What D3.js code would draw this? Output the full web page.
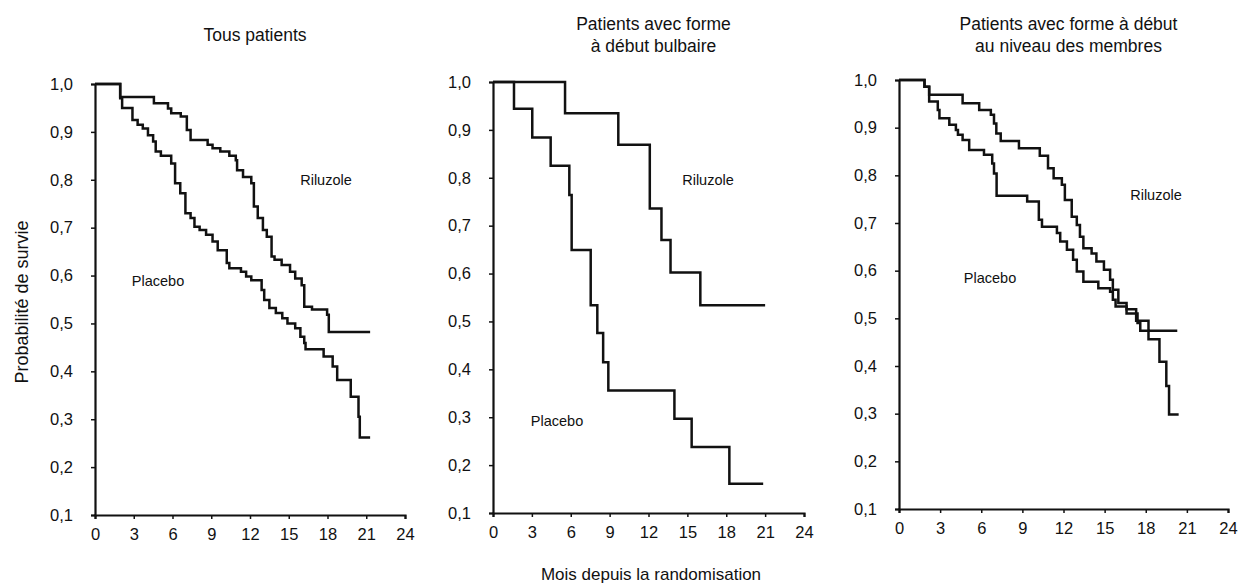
<!DOCTYPE html>
<html>
<head>
<meta charset="utf-8">
<script src="https://cdn.jsdelivr.net/npm/d3@7"></script>
<style>
  body { margin: 0; background: #fff; }
  text { font-family: "Liberation Sans", Arial, sans-serif; fill: #111; }
</style>
</head>
<body>
<div id="chart"></div>
<script>
// *** DATA ***
const monthTicks = [0, 3, 6, 9, 12, 15, 18, 21, 24];
const survTicks = [0.1, 0.2, 0.3, 0.4, 0.5, 0.6, 0.7, 0.8, 0.9, 1.0];

// step curves: [month, survival], last point = end of follow-up
const allRiluzole = [[0,1],[1.95,0.973],[4.56,0.96],[5.65,0.949],[5.9,0.939],[6.64,0.932],[7.11,0.904],[7.4,0.883],[8.72,0.873],[9.1,0.866],[9.7,0.859],[10.4,0.85],[10.9,0.841],[11.0,0.82],[11.46,0.806],[12.1,0.793],[12.3,0.744],[12.6,0.72],[13.0,0.695],[13.3,0.681],[13.67,0.64],[13.9,0.633],[14.45,0.622],[15.1,0.608],[15.5,0.594],[16.0,0.58],[16.2,0.535],[16.8,0.529],[17.97,0.518],[18.1,0.482],[21.3,0.482]];
const allPlacebo = [[0,1],[1.95,0.97],[2.1,0.95],[2.9,0.925],[3.3,0.915],[3.7,0.907],[4.1,0.893],[4.5,0.88],[4.7,0.859],[5.1,0.85],[5.9,0.834],[6.2,0.793],[6.6,0.772],[7.0,0.73],[7.4,0.72],[7.7,0.702],[8.1,0.695],[8.6,0.685],[9.1,0.671],[9.5,0.653],[10.2,0.626],[10.4,0.615],[11.3,0.608],[11.7,0.598],[12.1,0.59],[12.9,0.57],[13.1,0.549],[13.5,0.532],[14.0,0.522],[14.5,0.511],[14.9,0.5],[15.5,0.49],[15.9,0.472],[16.2,0.459],[16.3,0.446],[17.7,0.431],[18.4,0.41],[18.75,0.382],[19.8,0.347],[20.4,0.305],[20.5,0.262],[21.3,0.262]];

const bulbRiluzole = [[0,1],[5.56,0.935],[9.67,0.869],[12.1,0.736],[13.0,0.67],[13.7,0.602],[16.0,0.534],[21.0,0.534]];
const bulbPlacebo = [[0,1],[1.62,0.944],[3.03,0.884],[4.45,0.825],[5.89,0.764],[6.07,0.649],[7.54,0.534],[8.05,0.476],[8.5,0.415],[8.9,0.356],[14.0,0.297],[15.33,0.238],[18.24,0.161],[20.85,0.161]];

const limbRiluzole = [[0,1],[1.86,0.986],[2.2,0.969],[4.64,0.951],[5.85,0.937],[6.7,0.927],[6.93,0.909],[7.1,0.888],[7.42,0.872],[8.75,0.857],[10.27,0.841],[10.87,0.815],[11.28,0.794],[11.88,0.78],[12.1,0.748],[12.6,0.713],[12.97,0.696],[13.2,0.671],[13.45,0.647],[14.05,0.636],[14.4,0.619],[14.95,0.602],[15.4,0.581],[15.6,0.56],[16.0,0.532],[16.6,0.519],[17.3,0.495],[18.2,0.474],[20.3,0.474]];
const limbPlacebo = [[0,1],[1.86,0.986],[2.2,0.955],[2.83,0.937],[2.95,0.92],[3.67,0.906],[4.15,0.895],[4.3,0.885],[4.64,0.874],[5.12,0.853],[6.2,0.843],[6.8,0.825],[6.93,0.804],[7.12,0.757],[9.35,0.745],[10.2,0.707],[10.43,0.692],[11.52,0.679],[11.76,0.661],[12.25,0.644],[12.7,0.623],[12.97,0.598],[13.45,0.577],[14.54,0.563],[15.4,0.556],[15.6,0.539],[15.8,0.525],[16.6,0.51],[17.4,0.49],[17.6,0.474],[18.2,0.456],[19.0,0.409],[19.5,0.358],[19.7,0.298],[20.4,0.298]];

const titles = [["Tous patients"], ["Patients avec forme", "à début bulbaire"], ["Patients avec forme à début", "au niveau des membres"]];

// *** LAYOUT ***
const width = 1239, height = 587;
const panels = [
  { x0: 95, x1: 405, yTop: 84, yBot: 515, series: [allRiluzole, allPlacebo], title: titles[0],
    labels: [["Riluzole", 326, 185], ["Placebo", 158, 286]] },
  { x0: 493, x1: 804, yTop: 82, yBot: 513, series: [bulbRiluzole, bulbPlacebo], title: titles[1],
    labels: [["Riluzole", 708, 185], ["Placebo", 557, 426]] },
  { x0: 899, x1: 1228, yTop: 80, yBot: 509, series: [limbRiluzole, limbPlacebo], title: titles[2],
    labels: [["Riluzole", 1156, 200], ["Placebo", 990, 283]] }
];

const svg = d3.select("#chart").append("svg")
  .attr("width", width)
  .attr("height", height);

const commaFmt = d => d3.format(".1f")(d).replace(".", ",");

panels.forEach(p => {
  let x = d3.scaleLinear().domain([0, 24]).range([p.x0, p.x1]);
  let y = d3.scaleLinear().domain([0.1, 1.0]).range([p.yBot, p.yTop]);
  let g = svg.append("g");

  //y axis
  let yAxis = g.append("g")
    .attr("transform", `translate(${p.x0},0)`)
    .call(d3.axisLeft(y).tickValues(survTicks).tickFormat(commaFmt).tickSize(4).tickPadding(18));
  yAxis.select(".domain").attr("stroke", "#111").attr("stroke-width", 2.2);
  yAxis.selectAll(".tick line").attr("stroke", "#111").attr("stroke-width", 1.5);
  yAxis.selectAll(".tick text").style("font-size", "16.5px").attr("fill", "#111")
    .style("font-family", "Liberation Sans, Arial, sans-serif");

  //x axis
  let xAxis = g.append("g")
    .attr("transform", `translate(0,${p.yBot})`)
    .call(d3.axisBottom(x).tickValues(monthTicks).tickFormat(d3.format("d")).tickSize(4).tickPadding(9));
  xAxis.select(".domain").attr("stroke", "#111").attr("stroke-width", 2.2);
  xAxis.selectAll(".tick line").attr("stroke", "#111").attr("stroke-width", 1.5);
  xAxis.selectAll(".tick text").style("font-size", "16.5px").attr("fill", "#111")
    .style("font-family", "Liberation Sans, Arial, sans-serif");

  //survival curves
  let line = d3.line()
    .x(d => x(d[0]))
    .y(d => y(d[1]))
    .curve(d3.curveStepAfter);

  g.selectAll("path.curve")
    .data(p.series)
    .enter()
    .append("path")
      .attr("class", "curve")
      .attr("d", line)
      .attr("fill", "none")
      .attr("stroke", "#111")
      .attr("stroke-width", 2.5);

  //curve labels
  g.selectAll("text.lbl")
    .data(p.labels)
    .enter()
    .append("text")
      .attr("class", "lbl")
      .attr("x", d => d[1])
      .attr("y", d => d[2])
      .attr("text-anchor", "middle")
      .style("font-size", "14.5px")
      .text(d => d[0]);

  //panel title
  let cx = (p.x0 + p.x1) / 2 + 5;
  g.selectAll("text.title")
    .data(p.title)
    .enter()
    .append("text")
      .attr("class", "title")
      .attr("x", cx)
      .attr("y", (d, i) => p.title.length == 1 ? 41 : 30 + i * 22)
      .attr("text-anchor", "middle")
      .style("font-size", "17.5px")
      .text(d => d);
});

//axis titles
svg.append("text")
  .attr("transform", "translate(28,302) rotate(-90)")
  .attr("text-anchor", "middle")
  .style("font-size", "18px")
  .text("Probabilité de survie");

svg.append("text")
  .attr("x", 651)
  .attr("y", 580)
  .attr("text-anchor", "middle")
  .style("font-size", "17px")
  .text("Mois depuis la randomisation");
</script>
</body>
</html>
